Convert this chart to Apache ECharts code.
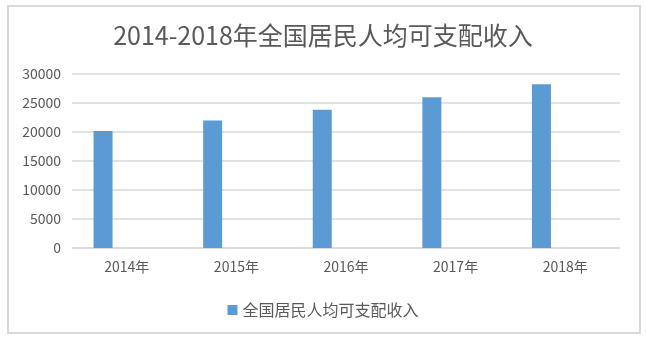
<!DOCTYPE html>
<html>
<head>
<meta charset="utf-8">
<script src="https://cdn.jsdelivr.net/npm/echarts@6/dist/echarts.min.js"></script>
<style>
html, body { margin: 0; padding: 0; background: #fff; }
#chart { width: 646px; height: 340px; }
</style>
</head>
<body>
<div id="chart"></div>
<script>
// 数据
var titleText = '2014-2018年全国居民人均可支配收入';
var seriesName = '全国居民人均可支配收入';
var years = ['2014年', '2015年', '2016年', '2017年', '2018年'];
var income = [20167, 21966, 23821, 25974, 28228];
var yTicks = [0, 5000, 10000, 15000, 20000, 25000, 30000];

var fontFamily = '"Noto Sans CJK SC", "Noto Sans", sans-serif';
var textColor = '#595959';
var lineColor = '#d9d9d9';

var myChart = echarts.init(document.getElementById('chart'));

var option = {
    backgroundColor: '#fff',
    animation: false,
    // 外框
    graphic: [{
        type: 'rect',
        shape: { x: 8, y: 6, width: 632, height: 327 },
        style: { fill: 'none', stroke: lineColor, lineWidth: 2 },
        silent: true
    }],
    title: {
        text: titleText,
        left: 'center',
        top: 18,
        textStyle: { fontFamily: fontFamily, fontSize: 25, fontWeight: 'normal', color: textColor }
    },
    legend: {
        data: [seriesName],
        left: 'center',
        top: 297,
        itemWidth: 10,
        itemHeight: 10,
        icon: 'rect',
        textStyle: { fontFamily: fontFamily, fontSize: 16, color: textColor }
    },
    grid: { left: 72, right: 26, top: 74, bottom: 92 },
    xAxis: {
        type: 'category',
        data: years,
        axisTick: { show: false },
        axisLine: { lineStyle: { color: lineColor, width: 1.5 } },
        axisLabel: { margin: 12, fontFamily: fontFamily, fontSize: 14, color: textColor }
    },
    yAxis: {
        type: 'value',
        min: yTicks[0],
        max: yTicks[yTicks.length - 1],
        interval: yTicks[1] - yTicks[0],
        axisLine: { show: false },
        axisTick: { show: false },
        splitLine: { lineStyle: { color: lineColor, width: 1.5 } },
        axisLabel: {
            margin: 11, fontFamily: fontFamily, fontSize: 14, color: textColor,
            formatter: function (v) { return String(v); }
        }
    },
    series: [{
        name: seriesName,
        type: 'bar',
        data: income,
        barWidth: 19,
        barGap: '150%',
        itemStyle: { color: '#5b9bd5' }
    }, {
        // 空系列，占位使柱子偏左
        name: 'placeholder',
        type: 'bar',
        data: [],
        barWidth: 19,
        silent: true
    }]
};
myChart.setOption(option);
</script>
</body>
</html>
